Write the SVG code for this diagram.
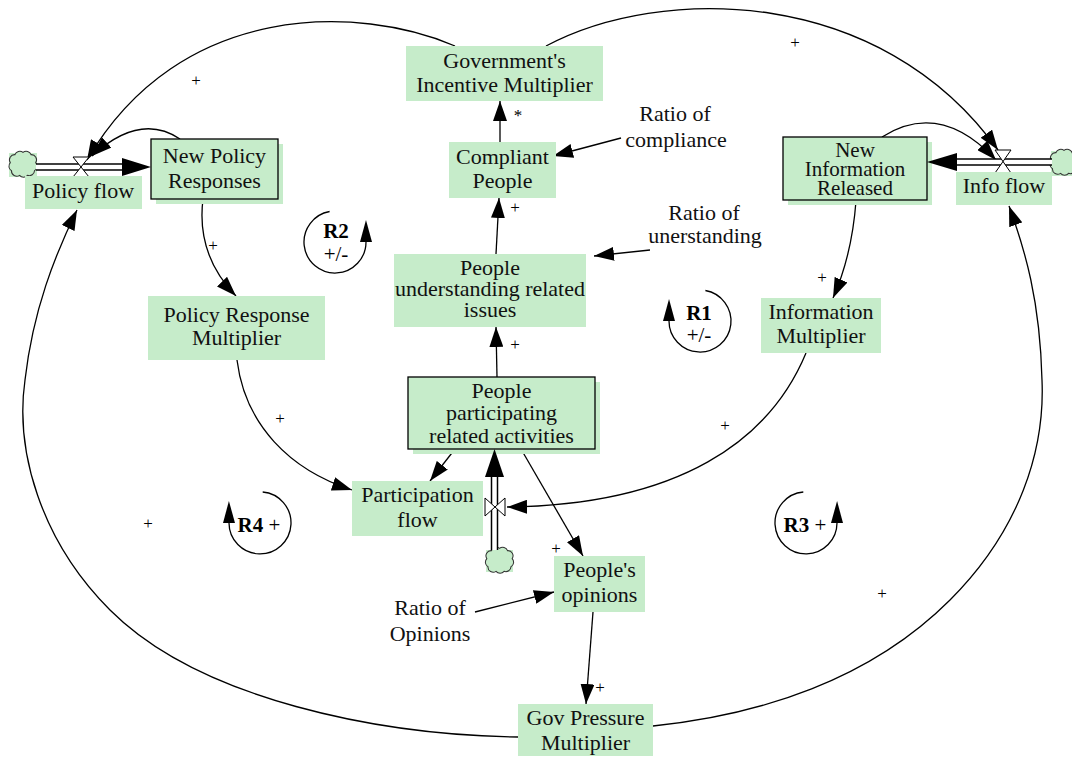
<svg xmlns="http://www.w3.org/2000/svg" width="1072" height="758" viewBox="0 0 1072 758">
<defs>
<style>
.g{fill:#c6ecca}
.stk{fill:#c6ecca;stroke:#000;stroke-width:1.3}
.t{font-family:"Liberation Serif","Times New Roman",serif;font-size:22px;text-anchor:middle;fill:#111}
.t3{font-size:21px}
.p{font-family:"Liberation Serif","Times New Roman",serif;font-size:17px;text-anchor:middle;fill:#000}
.lt{font-family:"Liberation Serif","Times New Roman",serif;font-size:21px;text-anchor:middle;fill:#000}
.b{font-weight:bold}
.c{fill:none;stroke:#000;stroke-width:1.3;marker-end:url(#ah)}
.lp{fill:none;stroke:#000;stroke-width:1.3;marker-end:url(#lah)}
.po{stroke:#000;stroke-width:7.5;fill:none}
.pi{stroke:#fff;stroke-width:4.5;fill:none}
.v{fill:#fff;stroke:#000;stroke-width:1}
.cl{fill:#c6ecca;stroke:#333;stroke-width:0.9}
</style>
<marker id="ah" viewBox="0 0 20 14" refX="20" refY="7" markerWidth="20" markerHeight="14" markerUnits="userSpaceOnUse" orient="auto"><path d="M0,0 L20,7 L0,14 Z" fill="#000"/></marker>
<marker id="lah" viewBox="0 0 22 12" refX="0" refY="6" markerWidth="22" markerHeight="12" markerUnits="userSpaceOnUse" orient="auto"><path d="M0,0 L22,6 L0,12 Z" fill="#000"/></marker>
<path id="cloud" d="M-11,-2 a4.5,4.5 0 0 1 4,-7 a4.5,4.5 0 0 1 7,-2 a4.5,4.5 0 0 1 7,2 a4.5,4.5 0 0 1 4,7 a4.5,4.5 0 0 1 -1,7 a4.5,4.5 0 0 1 -6,4 a4.5,4.5 0 0 1 -7,0 a4.5,4.5 0 0 1 -7,-4 a4.5,4.5 0 0 1 -1,-7 z"/>
</defs>
<rect width="1072" height="758" fill="#fff"/>

<g id="connectors">
<path class="c" d="M500,142 L500,101"/>
<path class="c" d="M496,254 L499,198"/>
<path class="c" d="M497,377 L496,327"/>
<path class="c" d="M650,250 L594,256"/>
<path class="c" d="M621,138 L553,156"/>
<path class="c" d="M455,46 C360,5 180,0 87,160"/>
<path class="c" d="M546,46 C660,-15 880,-15 998,150"/>
<path class="c" d="M180,139 Q140,112 92,156"/>
<path class="c" d="M203,199 Q196,255 236,296"/>
<path class="c" d="M237,360 C245,425 290,470 352,490"/>
<path class="c" d="M455,449 L430,481"/>
<path class="c" d="M521,449 L583,556"/>
<path class="c" d="M806,353 C770,440 680,505 507,507"/>
<path class="c" d="M856,201 Q852,255 833,298"/>
<path class="c" d="M882,137 Q940,100 996,160"/>
<path class="c" d="M475,612 L554,592"/>
<path class="c" d="M593,612 L586,704"/>
<path class="c" d="M518,737 C380,735 200,700 110,610 C40,540 15,450 25,380 C33,310 55,255 77,210"/>
<path class="c" d="M653,726 C760,715 870,680 950,600 C1020,530 1045,450 1042,380 C1040,300 1025,250 1009,206"/>
<text class="p" x="196" y="86">+</text>
<text class="p" x="795" y="48">+</text>
<text class="p" x="518" y="121">*</text>
<text class="p" x="515" y="213">+</text>
<text class="p" x="515" y="350">+</text>
<text class="p" x="213" y="251">+</text>
<text class="p" x="280" y="424">+</text>
<text class="p" x="822" y="283">+</text>
<text class="p" x="725" y="431">+</text>
<text class="p" x="556" y="554">+</text>
<text class="p" x="600" y="693">+</text>
<text class="p" x="148" y="529">+</text>
<text class="p" x="882" y="599">+</text>
</g>

<g id="policy-flow">
<rect class="g" x="9" y="153" width="28" height="24"/>
<use href="#cloud" class="cl" transform="translate(23,165) scale(1.15)"/>
<path class="po" d="M36,167 L124,167"/>
<path class="pi" d="M36,167 L124,167"/>
<polygon points="122,158 151,167 122,176" fill="#000"/>
<path class="v" d="M73,157 L89,157 L73,177 L89,177 Z"/>
<rect class="g" x="25" y="176" width="117" height="33"/>
<text class="t" x="83" y="198">Policy flow</text>
</g>

<g id="new-policy-responses">
<rect class="g" x="156" y="144" width="127" height="60"/>
<rect class="stk" x="151" y="139" width="127" height="60"/>
<text class="t" x="214.5" y="163">New Policy</text>
<text class="t" x="214.5" y="188">Responses</text>
</g>

<g id="gov-incentive">
<rect class="g" x="406" y="46" width="197" height="55"/>
<text class="t" x="504.5" y="68">Government's</text>
<text class="t" x="504.5" y="92">Incentive Multiplier</text>
</g>

<g id="compliant-people">
<rect class="g" x="449" y="142" width="107" height="56"/>
<text class="t" x="502.5" y="164">Compliant</text>
<text class="t" x="502.5" y="188">People</text>
</g>

<g id="ratio-compliance">
<text class="t" x="675" y="121">Ratio of</text>
<text class="t" x="676" y="147">compliance</text>
</g>

<g id="new-info-released">
<rect class="g" x="788" y="142" width="144" height="63"/>
<rect class="stk" x="783" y="137" width="144" height="63"/>
<text class="t t3" x="855" y="157">New</text>
<text class="t t3" x="855" y="176">Information</text>
<text class="t t3" x="855" y="195">Released</text>
</g>

<g id="info-flow">
<rect class="g" x="1051" y="151" width="23" height="25"/>
<use href="#cloud" class="cl" transform="translate(1064,163) scale(1.15)"/>
<path class="po" d="M955,162 L1052,162"/>
<path class="pi" d="M955,162 L1052,162"/>
<polygon points="957,153 927,162 957,171" fill="#000"/>
<path class="v" d="M995,150 L1011,150 L995,173 L1011,173 Z"/>
<rect class="g" x="956" y="172" width="96" height="33"/>
<text class="t" x="1004" y="193">Info flow</text>
</g>

<g id="ratio-understanding">
<text class="t" x="704" y="220">Ratio of</text>
<text class="t" x="705" y="243">unerstanding</text>
</g>

<g id="policy-response-multiplier">
<rect class="g" x="148" y="296" width="177" height="64"/>
<text class="t" x="236.5" y="322">Policy Response</text>
<text class="t" x="236.5" y="345">Multiplier</text>
</g>

<g id="people-understanding">
<rect class="g" x="394" y="254" width="192" height="73"/>
<text class="t" x="490" y="275">People</text>
<text class="t" x="490" y="296">understanding related</text>
<text class="t" x="490" y="317">issues</text>
</g>

<g id="information-multiplier">
<rect class="g" x="761" y="298" width="120" height="55"/>
<text class="t" x="821" y="319">Information</text>
<text class="t" x="821" y="343">Multiplier</text>
</g>

<g id="people-participating">
<rect class="g" x="413" y="382" width="187" height="72"/>
<rect class="stk" x="408" y="377" width="187" height="72"/>
<text class="t" x="501.5" y="398">People</text>
<text class="t" x="501.5" y="420">participating</text>
<text class="t" x="501.5" y="443">related activities</text>
</g>

<g id="participation-flow">
<rect class="g" x="486" y="550" width="27" height="22"/>
<use href="#cloud" class="cl" transform="translate(499.5,561) scale(1.15)"/>
<path class="po" d="M494.5,550 L494.5,475"/>
<path class="pi" d="M494.5,550 L494.5,475"/>
<polygon points="485,477 494.5,449 504,477" fill="#000"/>
<path class="v" d="M485,498 L505,516 L505,498 L485,516 Z"/>
<rect class="g" x="352" y="481" width="131" height="55"/>
<text class="t" x="417.5" y="502">Participation</text>
<text class="t" x="417.5" y="527">flow</text>
</g>

<g id="peoples-opinions">
<rect class="g" x="554" y="556" width="91" height="56"/>
<text class="t" x="599.5" y="577">People's</text>
<text class="t" x="599.5" y="602">opinions</text>
</g>

<g id="ratio-opinions">
<text class="t" x="430" y="615">Ratio of</text>
<text class="t" x="430" y="641">Opinions</text>
</g>

<g id="gov-pressure-multiplier">
<rect class="g" x="518" y="704" width="135" height="52"/>
<text class="t" x="585.5" y="725">Gov Pressure</text>
<text class="t" x="585.5" y="750">Multiplier</text>
</g>

<g id="loop-R2">
<path class="lp" d="M329.6,211.5 A31,31 0 1 0 366,242"/>
<text class="lt b" x="336" y="238">R2</text>
<text class="lt" x="336" y="261">+/-</text>
</g>

<g id="loop-R1">
<path class="lp" d="M705.4,290.5 A31,31 0 1 1 669,321"/>
<text class="lt b" x="699" y="320">R1</text>
<text class="lt" x="699" y="342">+/-</text>
</g>

<g id="loop-R4">
<path class="lp" d="M262.7,492 A31,31 0 1 1 229,523"/>
<text class="lt" x="259" y="532"><tspan class="b">R4</tspan> +</text>
</g>

<g id="loop-R3">
<path class="lp" d="M803.3,492 A31,31 0 1 0 837,523"/>
<text class="lt" x="805" y="532"><tspan class="b">R3</tspan> +</text>
</g>
</svg>
